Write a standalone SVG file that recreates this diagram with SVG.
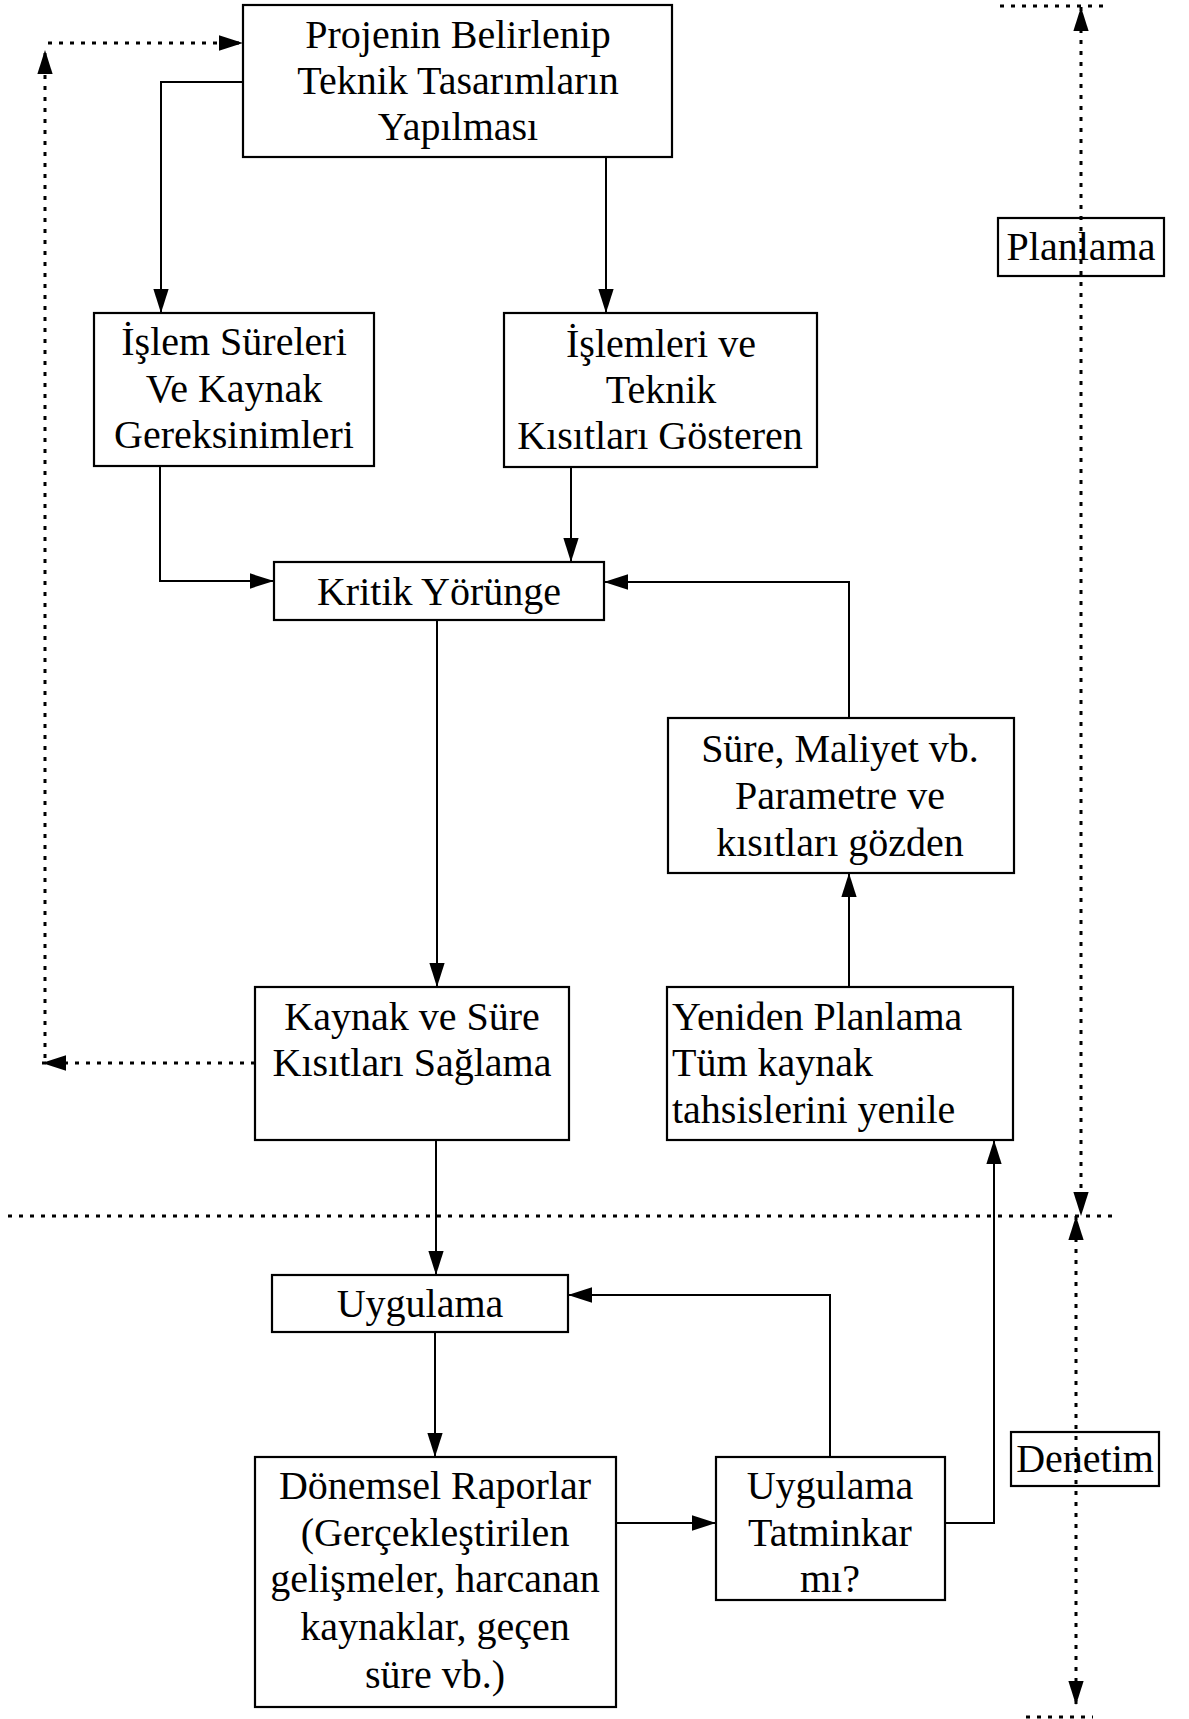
<svg xmlns="http://www.w3.org/2000/svg" width="1189" height="1719" viewBox="0 0 1189 1719">
  <style>
    .box { fill: none; stroke: #000; stroke-width: 2.2; }
    .lbl { font-family: "Liberation Serif", "Times New Roman", serif; font-size: 40px; fill: #000; }
    .c { text-anchor: middle; }
    .line { fill: none; stroke: #000; stroke-width: 2; }
    .dot { fill: none; stroke: #000; stroke-width: 3; stroke-dasharray: 4 7; }
  </style>
  <defs>
    <marker id="arrow" markerUnits="userSpaceOnUse" markerWidth="24" markerHeight="16" viewBox="0 0 22 14" refX="22" refY="7" orient="auto-start-reverse">
      <path d="M0,0 L22,7 L0,14 z" fill="#000"/>
    </marker>
  </defs>

  <rect width="1189" height="1719" fill="#fff"/>

  <!-- connectors -->
  <g id="connectors">
    <polyline class="line" points="243,82 161,82 161,313" marker-end="url(#arrow)"/>
    <line class="line" x1="606" y1="157" x2="606" y2="313" marker-end="url(#arrow)"/>
    <polyline class="line" points="160,466 160,581 274,581" marker-end="url(#arrow)"/>
    <line class="line" x1="571" y1="467" x2="571" y2="562" marker-end="url(#arrow)"/>
    <polyline class="line" points="849,718 849,582 604,582" marker-end="url(#arrow)"/>
    <line class="line" x1="437" y1="620" x2="437" y2="987" marker-end="url(#arrow)"/>
    <line class="line" x1="849" y1="987" x2="849" y2="873" marker-end="url(#arrow)"/>
    <line class="line" x1="436" y1="1140" x2="436" y2="1275" marker-end="url(#arrow)"/>
    <line class="line" x1="435" y1="1332" x2="435" y2="1457" marker-end="url(#arrow)"/>
    <line class="line" x1="616" y1="1523" x2="716" y2="1523" marker-end="url(#arrow)"/>
    <polyline class="line" points="830,1457 830,1295 568,1295" marker-end="url(#arrow)"/>
    <polyline class="line" points="945,1523 994,1523 994,1140" marker-end="url(#arrow)"/>

    <!-- dotted feedback loop on the left -->
    <line class="dot" x1="255" y1="1063" x2="42" y2="1063" marker-end="url(#arrow)"/>
    <line class="dot" x1="45" y1="1058" x2="45" y2="50" marker-end="url(#arrow)"/>
    <line class="dot" x1="48" y1="43" x2="243" y2="43" marker-end="url(#arrow)"/>

    <!-- phase separator and phase extents -->
    <line class="dot" x1="8" y1="1216" x2="1118" y2="1216"/>
    <line class="dot" x1="1000" y1="6" x2="1107" y2="6"/>
    <line class="dot" x1="1081" y1="7" x2="1081" y2="1216" marker-start="url(#arrow)" marker-end="url(#arrow)"/>
    <line class="dot" x1="1076" y1="1216" x2="1076" y2="1705" marker-start="url(#arrow)" marker-end="url(#arrow)"/>
    <line class="dot" x1="1026" y1="1717" x2="1093" y2="1717"/>
  </g>

  <g id="projenin">
    <rect class="box" x="243" y="5" width="429" height="152"/>
    <text class="lbl c" x="458" y="48">Projenin Belirlenip</text>
    <text class="lbl c" x="458" y="94">Teknik Tasarımların</text>
    <text class="lbl c" x="458" y="140">Yapılması</text>
  </g>

  <g id="islem-sureleri">
    <rect class="box" x="94" y="313" width="280" height="153"/>
    <text class="lbl c" x="234" y="355">İşlem Süreleri</text>
    <text class="lbl c" x="234" y="402">Ve Kaynak</text>
    <text class="lbl c" x="234" y="448">Gereksinimleri</text>
  </g>

  <g id="islemleri">
    <rect class="box" x="504" y="313" width="313" height="154"/>
    <text class="lbl c" x="661" y="357">İşlemleri ve</text>
    <text class="lbl c" x="661" y="403">Teknik</text>
    <text class="lbl c" x="660" y="449">Kısıtları Gösteren</text>
  </g>

  <g id="kritik">
    <rect class="box" x="274" y="562" width="330" height="58"/>
    <text class="lbl c" x="439" y="605">Kritik Yörünge</text>
  </g>

  <g id="sure-maliyet">
    <rect class="box" x="668" y="718" width="346" height="155"/>
    <text class="lbl c" x="840" y="762">Süre, Maliyet vb.</text>
    <text class="lbl c" x="840" y="809">Parametre ve</text>
    <text class="lbl c" x="840" y="856">kısıtları gözden</text>
  </g>

  <g id="kaynak-sure">
    <rect class="box" x="255" y="987" width="314" height="153"/>
    <text class="lbl c" x="412" y="1030">Kaynak ve Süre</text>
    <text class="lbl c" x="412" y="1076">Kısıtları Sağlama</text>
  </g>

  <g id="yeniden-planlama">
    <rect class="box" x="667" y="987" width="346" height="153"/>
    <text class="lbl" x="672" y="1030">Yeniden Planlama</text>
    <text class="lbl" x="672" y="1076">Tüm kaynak</text>
    <text class="lbl" x="672" y="1123">tahsislerini yenile</text>
  </g>

  <g id="uygulama">
    <rect class="box" x="272" y="1275" width="296" height="57"/>
    <text class="lbl c" x="420" y="1317">Uygulama</text>
  </g>

  <g id="donemsel-raporlar">
    <rect class="box" x="255" y="1457" width="361" height="250"/>
    <text class="lbl c" x="435" y="1499">Dönemsel Raporlar</text>
    <text class="lbl c" x="435" y="1546">(Gerçekleştirilen</text>
    <text class="lbl c" x="435" y="1592">gelişmeler, harcanan</text>
    <text class="lbl c" x="435" y="1640">kaynaklar, geçen</text>
    <text class="lbl c" x="435" y="1688">süre vb.)</text>
  </g>

  <g id="tatminkar">
    <rect class="box" x="716" y="1457" width="229" height="143"/>
    <text class="lbl c" x="830" y="1499">Uygulama</text>
    <text class="lbl c" x="830" y="1546">Tatminkar</text>
    <text class="lbl c" x="830" y="1592">mı?</text>
  </g>

  <g id="planlama">
    <rect class="box" x="998" y="218" width="166" height="58"/>
    <text class="lbl c" x="1081" y="260">Planlama</text>
  </g>

  <g id="denetim">
    <rect class="box" x="1011" y="1432" width="148" height="54"/>
    <text class="lbl c" x="1085" y="1472">Denetim</text>
  </g>
</svg>
